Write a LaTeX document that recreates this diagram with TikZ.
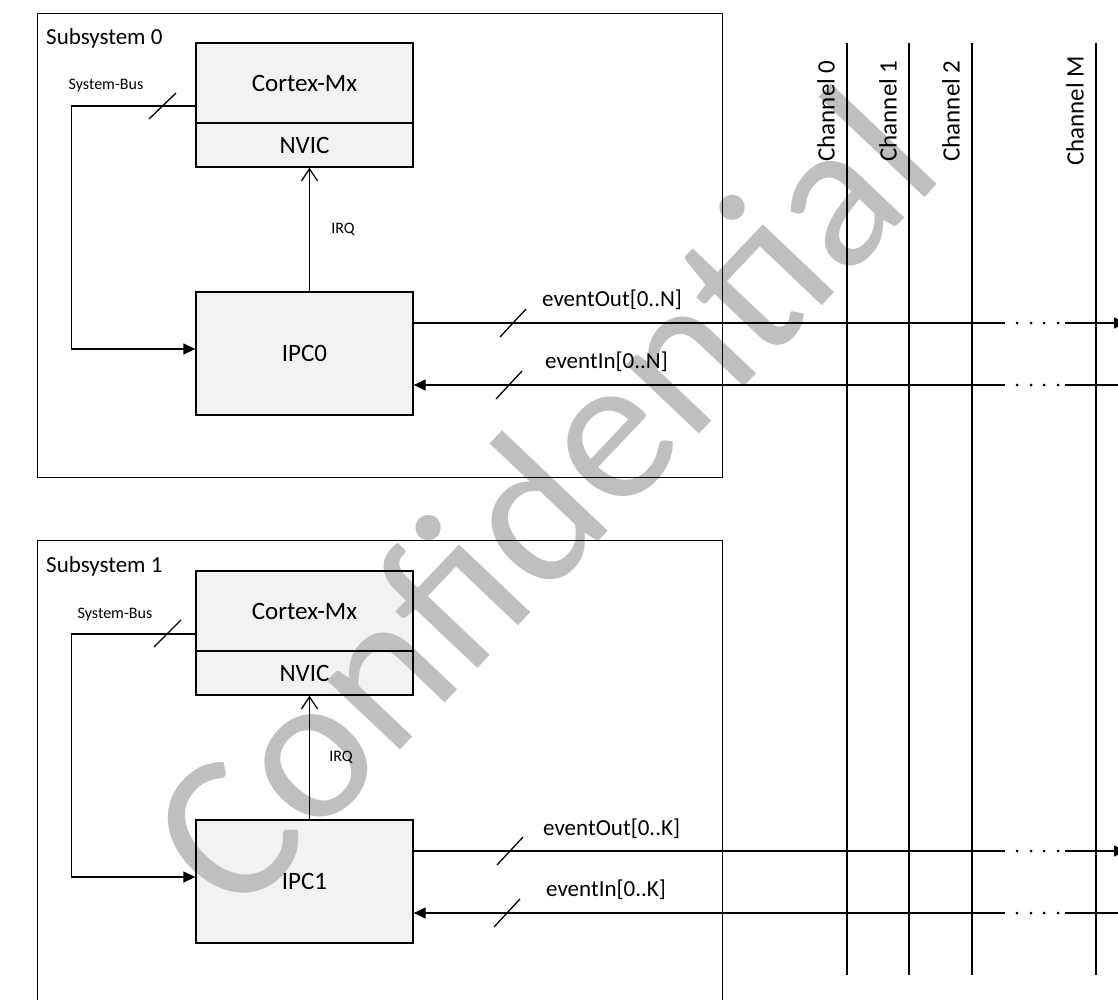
\documentclass[tikz,border=0pt]{standalone}
\usepackage{fontspec}
\setmainfont{Carlito}
\usetikzlibrary{arrows.meta}
\pgfdeclarelayer{fills}
\pgfdeclarelayer{wm}
\pgfsetlayers{fills,wm,main}
\definecolor{boxfill}{HTML}{F2F2F2}
\definecolor{wmgray}{HTML}{BFBFBF}
\newcommand\blkfont{\fontsize{25}{30}\selectfont}
\newcommand\lblfont{\fontsize{23}{28}\selectfont}
\newcommand\evfont{\fontsize{23}{28}\selectfont}
\newcommand\smlfont{\fontsize{16}{19}\selectfont}
\tikzset{
  blk/.style={draw, line width=1.3pt, minimum width=217pt, inner sep=0pt, font=\blkfont},
  subsys/.style={draw, line width=1.3pt, inner sep=0pt, anchor=north west},
  wire/.style={line width=1.3pt},
  farrow/.style={wire, -{Triangle[length=12pt,width=11pt]}},
  irqarrow/.style={wire, -{Straight Barb[length=12pt,width=16pt,line width=1.3pt]}},
  slash/.style={line width=1.3pt},
  lbl/.style={font=\lblfont, inner sep=0pt},
  chlbl/.style={font=\blkfont, inner sep=0pt, rotate=90},
  evlbl/.style={font=\evfont, inner sep=0pt, anchor=west},
  sml/.style={font=\smlfont, inner sep=0pt},
  chline/.style={line width=1.3pt},
}
\begin{document}
\begin{tikzpicture}[x=1pt,y=-1pt]
\useasboundingbox (0,0) rectangle (1118,999);
\clip (0,0) rectangle (1118,999);

% subsystem frames
\node[subsys, minimum width=685pt, minimum height=464pt] (sub0) at (37,13) {};
\node[subsys, minimum width=685pt, minimum height=480pt] (sub1) at (37,540) {};
\node[lbl, anchor=west] (sub0lbl) at (46,38) {Subsystem 0};
\node[lbl, anchor=west] (sub1lbl) at (46,566) {Subsystem 1};

% blocks subsystem 0
\node[blk, minimum height=80pt] (cortex0) at (304.5,83) {Cortex-Mx};
\node[blk, minimum height=44pt] (nvic0) at (304.5,145) {NVIC};
\node[blk, minimum height=123pt] (ipc0) at (304.5,353.5) {IPC0};
% blocks subsystem 1
\node[blk, minimum height=80pt] (cortex1) at (304.5,611) {Cortex-Mx};
\node[blk, minimum height=44pt] (nvic1) at (304.5,673) {NVIC};
\node[blk, minimum height=123pt] (ipc1) at (304.5,881.5) {IPC1};

\begin{pgfonlayer}{fills}
\fill[boxfill] (cortex0.north west) rectangle (nvic0.south east);
\fill[boxfill] (ipc0.north west) rectangle (ipc0.south east);
\fill[boxfill] (cortex1.north west) rectangle (nvic1.south east);
\fill[boxfill] (ipc1.north west) rectangle (ipc1.south east);
\end{pgfonlayer}

\begin{pgfonlayer}{wm}
\node[text=wmgray, font=\fontsize{210}{225}\selectfont, rotate=46.5, inner sep=0pt] (wm) at (540,498) {Confidential};
\end{pgfonlayer}

% system bus
\draw[farrow] ([yshift=-23pt]cortex0.west) -- ++(-124,0) |- ([yshift=4.5pt]ipc0.west);
\draw[slash] (149,119) -- (176,93);
\node[sml] (bus0) at (106,86) {System-Bus};
\draw[farrow] ([yshift=-23pt]cortex1.west) -- ++(-124,0) |- ([yshift=4.5pt]ipc1.west);
\draw[slash] (154,647) -- (181,620);
\node[sml] (bus1) at (115,615) {System-Bus};

% IRQ
\draw[irqarrow] ([xshift=5pt]ipc0.north) -- ([xshift=5pt]nvic0.south);
\node[sml] (irq0) at (343,229) {IRQ};
\draw[irqarrow] ([xshift=5pt]ipc1.north) -- ([xshift=5pt]nvic1.south);
\node[sml] (irq1) at (341,757) {IRQ};

% channel lines
\foreach \x/\n/\t in {847/0/Channel 0,909/1/Channel 1,972/2/Channel 2,1096/M/Channel M}{
  \coordinate (ch\n t) at (\x,43);
  \coordinate (ch\n b) at (\x,975);
  \node[chlbl] (ch\n lbl) at (\x-21,111) {\t};
}

% event lines
\coordinate (eo0a) at (1005,323); \coordinate (eo0b) at (1065,323); \coordinate (eo0e) at (1126,323);
\coordinate (ei0a) at (1005,385); \coordinate (ei0b) at (1065,385); \coordinate (ei0e) at (1130,385);
\coordinate (eo1a) at (1005,851); \coordinate (eo1b) at (1065,851); \coordinate (eo1e) at (1126,851);
\coordinate (ei1a) at (1005,913); \coordinate (ei1b) at (1065,913); \coordinate (ei1e) at (1130,913);

\draw[wire] ([yshift=30.5pt]ipc0.east) -- (eo0a);
\draw[farrow] (eo0b) -- (eo0e);
\draw[wire] (ei0e) -- (ei0b);
\draw[farrow] (ei0a) -- ([yshift=-31.5pt]ipc0.east);
\draw[wire] ([yshift=30.5pt]ipc1.east) -- (eo1a);
\draw[farrow] (eo1b) -- (eo1e);
\draw[wire] (ei1e) -- (ei1b);
\draw[farrow] (ei1a) -- ([yshift=-31.5pt]ipc1.east);
\foreach \y in {323,385,851,913}{
  \foreach \x in {1017,1031,1044,1058}{ \fill (\x,\y) circle (1.5); }
}

\foreach \n in {0,1,2,M}{ \draw[chline] (ch\n t) -- (ch\n b); }

% slashes on event buses
\draw[slash] (500,337) -- (526,309);
\draw[slash] (496,399) -- (522,371);
\draw[slash] (497,865) -- (523,837);
\draw[slash] (494,927) -- (520,899);

\node[evlbl] (eo0lbl) at (542,300) {eventOut[0..N]};
\node[evlbl] (ei0lbl) at (545,362) {eventIn[0..N]};
\node[evlbl] (eo1lbl) at (543,829) {eventOut[0..K]};
\node[evlbl] (ei1lbl) at (546,890) {eventIn[0..K]};
\end{tikzpicture}
\end{document}
